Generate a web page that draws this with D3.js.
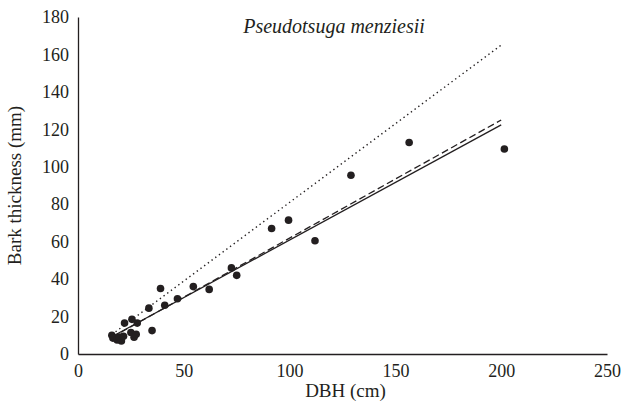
<!DOCTYPE html>
<html>
  <head>
    <meta charset="utf-8">
    <title>Pseudotsuga menziesii bark thickness</title>
    <script src="https://d3js.org/d3.v7.min.js"></script>
    <style>
      body { margin: 0; background: #fff; }
      text { font-family: "Liberation Serif", "Times New Roman", serif; fill: #231f20; }
    </style>
  </head>
  <body>
    <svg id="chart" width="623" height="419"></svg>
    <script>
      // observed trees: DBH (cm) and bark thickness (mm)
      var dbh = [16, 16.5, 18.5, 19.5, 20.5, 21.5, 22, 25, 25.5, 26.5, 27.5, 28,
                 33.5, 35, 39, 41, 47, 54.5, 62, 72.5, 75, 91.5, 99.5, 112,
                 129, 156.5, 201.5];
      var bark = [10, 8.5, 7.5, 9, 7, 9.5, 16.5, 11.5, 18.5, 9, 10.5, 16.5,
                  24.5, 12.5, 35, 26, 29.5, 36, 34.5, 46, 42, 67, 71.5, 60.5,
                  95.5, 113, 109.5];
      // fitted lines, read at their two ends
      var lineNames = ["solid", "dashed", "dotted"];
      var lineX = [16, 200];
      var lineY = {
        solid: [9.2, 122.4],
        dashed: [8.9, 125],
        dotted: [10.4, 165]
      };
      var xTicks = [0, 50, 100, 150, 200, 250];
      var yTicks = [0, 20, 40, 60, 80, 100, 120, 140, 160, 180];

      var svg = d3.select("#chart");
      var x = d3.scaleLinear().domain([0, 250]).range([78, 607]);
      var y = d3.scaleLinear().domain([0, 180]).range([354, 17]);

      // axes (no tick marks, just the lines and labels)
      var xAxis = d3.axisBottom(x).tickValues(xTicks).tickSize(0).tickPadding(10);
      var yAxis = d3.axisLeft(y).tickValues(yTicks).tickSize(0).tickPadding(9);
      var gx = svg.append("g").attr("transform", "translate(0," + y(0) + ")").call(xAxis);
      var gy = svg.append("g").attr("transform", "translate(" + x(0) + ",0)").call(yAxis);
      [gx, gy].forEach(function(g) {
        g.select(".domain").attr("stroke", "#231f20").attr("stroke-width", 1.3);
        g.selectAll("text").style("font-size", "18px").attr("fill", "#231f20");
      });

      // fitted lines
      var styles = {
        solid: null,
        dashed: "7,3.5",
        dotted: "1.4,3.2"
      };
      lineNames.forEach(function(name) {
        svg.append("line")
          .attr("x1", x(lineX[0])).attr("y1", y(lineY[name][0]))
          .attr("x2", x(lineX[1])).attr("y2", y(lineY[name][1]))
          .attr("stroke", "#231f20")
          .attr("stroke-width", name == "dotted" ? 1.4 : 1.3)
          .attr("stroke-dasharray", styles[name]);
      });

      // points
      svg.selectAll(".dot")
        .data(dbh)
        .enter().append("circle")
          .classed("dot", true)
          .attr("cx", function(d) { return x(d); })
          .attr("cy", function(d, i) { return y(bark[i]); })
          .attr("r", 3.8)
          .attr("fill", "#231f20");

      // titles
      svg.append("text")
        .attr("x", 334).attr("y", 33)
        .attr("text-anchor", "middle")
        .style("font-size", "20px")
        .style("font-style", "italic")
        .text("Pseudotsuga menziesii");
      svg.append("text")
        .attr("x", (x(0) + x(250)) / 2 + 3).attr("y", 397)
        .attr("text-anchor", "middle")
        .style("font-size", "19px")
        .text("DBH (cm)");
      svg.append("text")
        .attr("transform", "translate(21," + ((y(0) + y(180)) / 2) + ") rotate(-90)")
        .attr("text-anchor", "middle")
        .style("font-size", "19px")
        .text("Bark thickness (mm)");
    </script>
  </body>
</html>
